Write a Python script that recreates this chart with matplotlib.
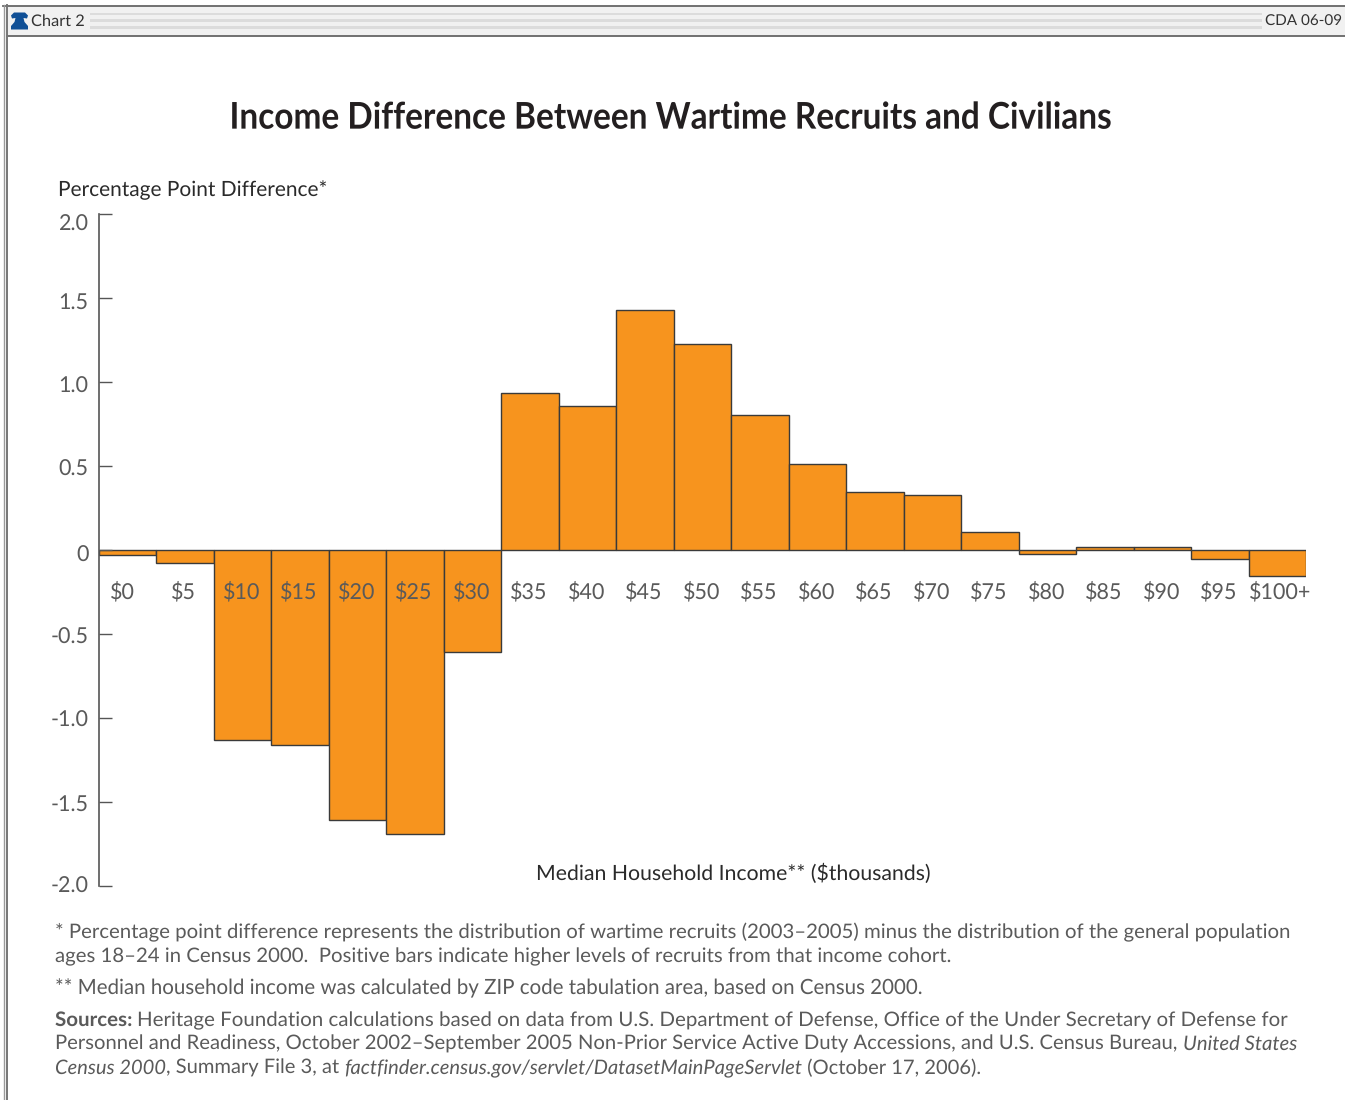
import matplotlib
matplotlib.use("Agg")
import matplotlib.pyplot as plt
import matplotlib.patheffects as pe
from matplotlib.patches import Polygon, Rectangle
from matplotlib.transforms import Affine2D

plt.rcParams["text.hinting"] = "no_hinting"

W, H = 1345, 1100

categories = ["$0", "$5", "$10", "$15", "$20", "$25", "$30", "$35", "$40", "$45", "$50",
              "$55", "$60", "$65", "$70", "$75", "$80", "$85", "$90", "$95", "$100+"]
difference = [-0.03, -0.08, -1.13, -1.16, -1.61, -1.69, -0.61, 0.935, 0.86, 1.43, 1.225,
              0.805, 0.51, 0.345, 0.33, 0.11, -0.025, 0.015, 0.02, -0.055, -0.155]
y_ticks = [2.0, 1.5, 1.0, 0.5, 0, -0.5, -1.0, -1.5, -2.0]
y_tick_labels = ["2.0", "1.5", "1.0", "0.5", "0", "-0.5", "-1.0", "-1.5", "-2.0"]

BAR = "#f7941e"
EDGE = "#3a3a3a"
INK = "#5a5a5a"
BODY = "Lato"

fig = plt.figure(figsize=(W / 100, H / 100), dpi=100, facecolor="white")
renderer = fig.canvas.get_renderer()

# Page furniture lives on a full-figure layer addressed in pixels.
page = fig.add_axes([0, 0, 1, 1], zorder=0)
page.set_xlim(0, W)
page.set_ylim(H, 0)
page.axis("off")
page.add_patch(Rectangle((7, 6), W - 7, 30, fc="#f1f1f1", ec="none"))
for top, height in [(13, 2), (19, 3), (26, 3)]:
    page.add_patch(Rectangle((90, top), 1172, height, fc="#dcdcdc", ec="none"))
page.plot([3, 1345], [5.5, 5.5], color="#666666", lw=1.3)
page.plot([7, 1345], [35.5, 35.5], color="#666666", lw=1.3)
page.plot([3.5, 3.5], [5, 1100], color="#9a9a9a", lw=1.0)
page.plot([6.5, 6.5], [5, 1100], color="#777777", lw=1.4)
page.add_patch(Polygon([(11, 29.5), (11, 26), (14.5, 22), (15.5, 18), (12, 18.5), (11, 15.5), (14, 12.5),
                        (25, 12.5), (28, 15.5), (27, 18.5), (23.5, 18), (24.5, 22), (28, 26), (28, 29.5)],
                       closed=True, fc="#0f4f96", ec="none"))
page.text(31, 21.5, "Chart 2", family=BODY, fontsize=11.8, color="#333333", va="center", ha="left")
page.text(1342, 21.5, "CDA 06-09", family=BODY, fontsize=11, color="#333333", va="center", ha="right")


class SqueezeX(pe.AbstractPathEffect):
    """Compress glyph outlines horizontally about a fixed pixel column."""

    def __init__(self, factor, centre):
        super().__init__()
        self.factor = factor
        self.centre = centre

    def draw_path(self, renderer, gc, tpath, affine, rgbFace=None):
        squeeze = Affine2D().translate(-self.centre, 0).scale(self.factor, 1).translate(self.centre, 0)
        renderer.draw_path(gc, tpath, affine + squeeze, rgbFace)


title = page.text(670, 118, "Income Difference Between Wartime Recruits and Civilians",
                  family=BODY, weight="bold", fontsize=26.5, color="#231f20",
                  ha="center", va="center")
title.set_path_effects([SqueezeX(881 / title.get_window_extent(renderer).width, 670)])

page.text(58, 190, "Percentage Point Difference*", family=BODY, fontsize=15, color="#2a2a2a",
          ha="left", va="center")
page.text(536, 873, "Median Household Income** ($thousands)", family=BODY, fontsize=15.3,
          color="#2a2a2a", ha="left", va="center")


def row(x, y, right, parts, size=14.5):
    """Lay out runs of differing style on one baseline, sized to end at a given column."""
    runs = []
    for string, style in parts:
        runs.append(page.text(x, y, string, family=BODY, fontsize=size, color=INK, va="baseline",
                              ha="left", weight="bold" if style == "b" else "normal",
                              style="italic" if style == "i" else "normal"))
    for _ in range(3):
        total = sum(t.get_window_extent(renderer).width for t in runs)
        size *= (right - x) / total
        for t in runs:
            t.set_fontsize(size)
    for t in runs:
        t.set_x(x)
        x += t.get_window_extent(renderer).width


row(55, 938, 1292, [("* Percentage point difference represents the distribution of wartime recruits "
                     "(2003–2005) minus the distribution of the general population", "")])
row(55, 962, 952, [("ages 18–24 in Census 2000.  Positive bars indicate higher levels of recruits "
                    "from that income cohort.", "")])
row(55, 994, 921, [("** Median household income was calculated by ZIP code tabulation area, "
                    "based on Census 2000.", "")])
row(55, 1026, 1285, [("Sources: ", "b"), ("Heritage Foundation calculations based on data from "
                                          "U.S. Department of Defense, Office of the Under Secretary "
                                          "of Defense for", "")])
row(55, 1050, 1291, [("Personnel and Readiness, October 2002–September 2005 Non-Prior Service Active "
                      "Duty Accessions, and U.S. Census Bureau, ", ""), ("United States", "i")])
row(55, 1074, 981, [("Census 2000", "i"), (", Summary File 3, at ", ""),
                    ("factfinder.census.gov/servlet/DatasetMainPageServlet", "i"),
                    (" (October 17, 2006).", "")])

# Plot area: one unit on x is one income band, y runs from -2 to 2.
ax = fig.add_axes([98.6 / W, 1 - 886 / H, 1207.5 / W, 672 / H], zorder=1)
ax.patch.set_alpha(0)
ax.set_xlim(0, len(categories))
ax.set_ylim(-2, 2)
positions = [i + 0.5 for i in range(len(categories))]
ax.bar(positions, difference, width=1.0, color=BAR, edgecolor=EDGE, linewidth=1.0)
for side in ("top", "right", "bottom"):
    ax.spines[side].set_visible(False)
ax.spines["left"].set_color("#555555")
ax.spines["left"].set_linewidth(1.2)
ax.set_xticks([])
ax.set_yticks(y_ticks)
ax.set_yticklabels([])
ax.tick_params(axis="y", direction="in", length=9.5, width=1.0, color="#555555")

# The value labels sit slightly off their ticks, furthest at the top of the scale.
y_label_shift = [-11, -5, -5, -4, -6, -4, -3, -3, -1]
for value, label, shift in zip(y_ticks, y_tick_labels, y_label_shift):
    ax.annotate(label, xy=(0, value), xycoords=ax.get_yaxis_transform(), xytext=(-10, shift),
                textcoords="offset pixels", family=BODY, fontsize=15.5,
                color=INK, ha="right", va="center")
for i, (pos, label) in enumerate(zip(positions, categories)):
    nudge = -5 if i == 0 else 3 if i == len(categories) - 1 else -1
    ax.annotate(label, xy=(pos, 0), xytext=(nudge, -42), textcoords="offset pixels",
                family=BODY, fontsize=15.5, color=INK, ha="center", va="center", zorder=5)

fig.savefig("out.png", dpi=100)
